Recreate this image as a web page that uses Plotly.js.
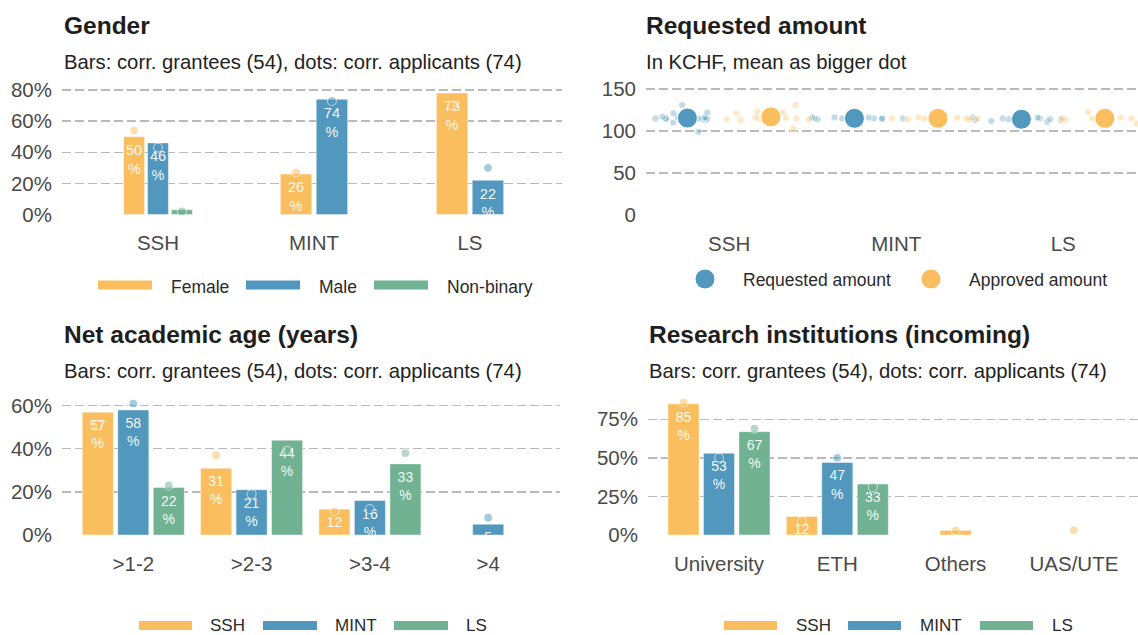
<!DOCTYPE html>
<html>
<head>
<meta charset="utf-8">
<script src="https://cdn.plot.ly/plotly-3.0.1.min.js"></script>
<style>html,body{margin:0;padding:0;background:#fff;}</style>
</head>
<body>
<div id="chart" style="width:1138px;height:635px;"></div>
<script>
// ---------------- DATA ----------------
const groupCategories = ['SSH', 'MINT', 'LS'];
const genderSeries = ['Female', 'Male', 'Non-binary'];
const genderFemaleGrantees = [50, 26, 78];
const genderMaleGrantees = [46, 74, 22];
const genderNonBinaryGrantees = [3, 0, 0];
const genderFemaleApplicants = [54, 27, 70];
const genderMaleApplicants = [43, 73, 30];
const genderNonBinaryApplicants = [2, 0, 0];

const amountSeries = ['Requested amount', 'Approved amount'];
const requestedSSH = [115, 114, 115, 116, 113, 115, 114, 117, 122, 121, 131, 99, 110, 115, 114, 116, 115];
const approvedSSH = [115, 114, 116, 115, 113, 122, 121, 123, 131, 103, 115, 114, 116];
const requestedMINT = [115, 116, 115, 114, 115, 116, 115, 114, 116, 115, 115];
const approvedMINT = [115, 116, 114, 115, 116, 115, 114, 115, 116];
const requestedLS = [115, 114, 113, 112, 115, 116, 111, 114, 115, 113, 116];
const approvedLS = [115, 114, 116, 115, 123, 109, 113, 115, 116];

const ageCategories = ['>1-2', '>2-3', '>3-4', '>4'];
const ageSSHGrantees = [57, 31, 12, 0];
const ageMINTGrantees = [58, 21, 16, 5];
const ageLSGrantees = [22, 44, 33, 0];
const ageSSHApplicants = [51, 37, 11, 0];
const ageMINTApplicants = [61, 19, 12, 8];
const ageLSApplicants = [23, 39, 38, 0];

const instCategories = ['University', 'ETH', 'Others', 'UAS/UTE'];
const instSSHGrantees = [85, 12, 3, 0];
const instMINTGrantees = [53, 47, 0, 0];
const instLSGrantees = [67, 33, 0, 0];
const instSSHApplicants = [86, 9, 3, 3];
const instMINTApplicants = [50, 50, 0, 0];
const instLSApplicants = [69, 31, 0, 0];

const genderTicks = [0, 20, 40, 60, 80];
const amountTicks = [0, 50, 100, 150];
const ageTicks = [0, 20, 40, 60];
const instTicks = [0, 25, 50, 75];

// ---------------- STYLE / LAYOUT HELPERS ----------------
const W = 1138, H = 635;
const F = '"Liberation Sans", Arial, Helvetica, sans-serif';
const ORANGE = '#FABE5F', BLUE = '#5298BE', GREEN = '#71B293';
const ORANGE_RGB = '250,190,95', BLUE_RGB = '82,152,190';

const panels = {
  tl: {xa: 'x',  ya: 'y',  xk: 'xaxis',  yk: 'yaxis',  left: 62,  right: 562,  top: 80,  zeroPx: 214.5, refVal: 80,  refPx: 90,    c0: 158,   sp: 156},
  tr: {xa: 'x2', ya: 'y2', xk: 'xaxis2', yk: 'yaxis2', left: 646, right: 1138, top: 80,  zeroPx: 215,   refVal: 150, refPx: 89,    c0: 729.2, sp: 167},
  bl: {xa: 'x3', ya: 'y3', xk: 'xaxis3', yk: 'yaxis3', left: 62,  right: 560,  top: 393, zeroPx: 535,   refVal: 60,  refPx: 405.7, c0: 133.3, sp: 118.3},
  br: {xa: 'x4', ya: 'y4', xk: 'xaxis4', yk: 'yaxis4', left: 648, right: 1138, top: 393, zeroPx: 535,   refVal: 75,  refPx: 419.3, c0: 719,   sp: 118.3}
};
Object.values(panels).forEach(p => { p.ppu = (p.zeroPx - p.refPx) / p.refVal; });

function makeAxes(p, cats, yticks, suffix, layout) {
  const bottom = p.zeroPx + 1;
  layout[p.xk] = {
    type: 'linear', anchor: p.ya,
    domain: [p.left / W, p.right / W],
    range: [(p.left - p.c0) / p.sp, (p.right - p.c0) / p.sp],
    tickvals: cats.map((c, i) => i), ticktext: cats,
    showgrid: false, zeroline: false, showline: false, ticks: '',
    tickfont: {family: F, size: 20.5, color: '#4a4a4a'},
    ticklabelstandoff: 13, fixedrange: true
  };
  layout[p.yk] = {
    type: 'linear', anchor: p.xa,
    domain: [1 - bottom / H, 1 - p.top / H],
    range: [-(bottom - p.zeroPx) / p.ppu, (p.zeroPx - p.top) / p.ppu],
    tickvals: yticks, ticktext: yticks.map(v => v + suffix),
    showgrid: true, gridcolor: '#bababa', griddash: '9px,4px', gridwidth: 1.3,
    zeroline: false, showline: false, ticks: '',
    tickfont: {family: F, size: 20.5, color: '#4a4a4a'},
    ticklabelstandoff: 9, fixedrange: true
  };
}

function buildBarPanel(p, cats, bars, dots, colors, mode, fs) {
  const per = bars.map(() => ({bx: [], by: [], bw: [], dx: [], dy: []}));
  cats.forEach((c, i) => {
    const present = [];
    bars.forEach((b, k) => { if (b[i] > 0 || dots[k][i] > 0) present.push(k); });
    const n = present.length;
    if (!n) return;
    const slot = mode === 'total' ? 0.46 / n : 0.3;
    const gw = slot * n;
    present.forEach((k, j) => {
      const xc = i - gw / 2 + (j + 0.5) * slot;
      if (bars[k][i] > 0) { per[k].bx.push(xc); per[k].by.push(bars[k][i]); per[k].bw.push(slot * 0.875); }
      if (dots[k][i] > 0) { per[k].dx.push(xc); per[k].dy.push(dots[k][i]); }
    });
  });
  const tr = [];
  per.forEach((s, k) => tr.push({
    type: 'bar', x: s.bx, y: s.by, width: s.bw, xaxis: p.xa, yaxis: p.ya,
    marker: {color: colors[k], line: {color: 'rgba(255,255,255,0.55)', width: 0.8}},
    hoverinfo: 'skip', showlegend: false
  }));
  // value labels inside bars (two lines: number, then %); only where the number fits in the bar
  per.forEach((s, k) => {
    const xs = [], ys = [], ts = [];
    s.bx.forEach((x, j) => {
      if (s.by[j] * p.ppu >= 9) {
        xs.push(x); ys.push(s.by[j]);
        ts.push(s.by[j] * p.ppu >= 24 ? s.by[j] + '<br>%' : String(s.by[j]));
      }
    });
    tr.push({
      type: 'scatter', mode: 'markers+text', x: xs, y: ys, text: ts, textposition: 'bottom center',
      textfont: {family: F, size: fs, color: 'rgba(255,255,255,0.95)'},
      marker: {size: 10.4, color: 'rgba(0,0,0,0)', opacity: 0},
      cliponaxis: true, xaxis: p.xa, yaxis: p.ya, hoverinfo: 'skip', showlegend: false
    });
  });
  per.forEach((s, k) => tr.push({
    type: 'scatter', mode: 'markers', x: s.dx, y: s.dy,
    marker: {size: 9, color: colors[k], opacity: 0.5, line: {color: '#ffffff', width: 1.2}},
    cliponaxis: false, xaxis: p.xa, yaxis: p.ya, hoverinfo: 'skip', showlegend: false
  }));
  return tr;
}

function mean(a) { return a.reduce((s, v) => s + v, 0) / a.length; }

function buildAmountPanel(p) {
  const req = [requestedSSH, requestedMINT, requestedLS];
  const app = [approvedSSH, approvedMINT, approvedLS];
  const tr = [];
  const groups = [[req, -0.25, BLUE_RGB, BLUE], [app, 0.25, ORANGE_RGB, ORANGE]];
  groups.forEach(([sets, off, rgb]) => {
    sets.forEach((arr, i) => tr.push({
      type: 'box', x: arr.map(() => i + off), y: arr, xaxis: p.xa, yaxis: p.ya,
      boxpoints: 'all', jitter: 1, pointpos: 0, width: 0.8, whiskerwidth: 0,
      fillcolor: 'rgba(0,0,0,0)', line: {width: 0, color: 'rgba(0,0,0,0)'},
      marker: {size: 7, color: 'rgba(' + rgb + ',0.35)', line: {color: 'rgba(255,255,255,0.85)', width: 0.8}},
      hoverinfo: 'skip', showlegend: false
    }));
  });
  groups.forEach(([sets, off, rgb, col]) => {
    tr.push({
      type: 'scatter', mode: 'markers',
      x: sets.map((a, i) => i + off), y: sets.map(a => mean(a)),
      marker: {size: 20, color: col, line: {color: '#ffffff', width: 1}},
      cliponaxis: false, xaxis: p.xa, yaxis: p.ya, hoverinfo: 'skip', showlegend: false
    });
  });
  return tr;
}

// ---------------- BUILD ----------------
const layout = {
  width: W, height: H, margin: {l: 0, r: 0, t: 0, b: 0},
  paper_bgcolor: '#ffffff', plot_bgcolor: '#ffffff',
  showlegend: false, barmode: 'overlay', boxmode: 'overlay',
  font: {family: F, color: '#333'},
  annotations: [], shapes: []
};

makeAxes(panels.tl, groupCategories, genderTicks, '%', layout);
makeAxes(panels.tr, groupCategories, amountTicks, '', layout);
makeAxes(panels.bl, ageCategories, ageTicks, '%', layout);
makeAxes(panels.br, instCategories, instTicks, '%', layout);

let data = [];
data = data.concat(buildBarPanel(panels.tl, groupCategories,
  [genderFemaleGrantees, genderMaleGrantees, genderNonBinaryGrantees],
  [genderFemaleApplicants, genderMaleApplicants, genderNonBinaryApplicants],
  [ORANGE, BLUE, GREEN], 'total', 14.5));
data = data.concat(buildAmountPanel(panels.tr));
data = data.concat(buildBarPanel(panels.bl, ageCategories,
  [ageSSHGrantees, ageMINTGrantees, ageLSGrantees],
  [ageSSHApplicants, ageMINTApplicants, ageLSApplicants],
  [ORANGE, BLUE, GREEN], 'single', 14));
data = data.concat(buildBarPanel(panels.br, instCategories,
  [instSSHGrantees, instMINTGrantees, instLSGrantees],
  [instSSHApplicants, instMINTApplicants, instLSApplicants],
  [ORANGE, BLUE, GREEN], 'single', 14));

// titles
function txt(text, xpx, ypx, size, color, anchor) {
  layout.annotations.push({
    text: text, xref: 'paper', yref: 'paper', x: xpx / W, y: 1 - ypx / H,
    xanchor: anchor || 'left', yanchor: 'middle', showarrow: false,
    font: {family: F, size: size, color: color}, borderpad: 0
  });
}
const subtitleGrant = 'Bars: corr. grantees (54), dots: corr. applicants (74)';
txt('<b>Gender</b>', 63, 26, 24.5, '#1e1e1e');
txt(subtitleGrant, 63, 62, 20.3, '#222');
txt('<b>Requested amount</b>', 645, 26, 24.5, '#1e1e1e');
txt('In KCHF, mean as bigger dot', 645, 62, 20.3, '#222');
txt('<b>Net academic age (years)</b>', 63, 335, 24.5, '#1e1e1e');
txt(subtitleGrant, 63, 371, 20.3, '#222');
txt('<b>Research institutions (incoming)</b>', 648, 335, 24.5, '#1e1e1e');
txt(subtitleGrant, 648, 371, 20.3, '#222');

// legends (keys + labels)
function rectKey(x0, x1, yc, color) {
  layout.shapes.push({type: 'rect', xref: 'paper', yref: 'paper',
    x0: x0 / W, x1: x1 / W, y0: 1 - (yc + 4.5) / H, y1: 1 - (yc - 4.5) / H,
    fillcolor: color, line: {width: 0}});
}
function circleKey(xc, yc, d, color) {
  layout.shapes.push({type: 'circle', xref: 'paper', yref: 'paper',
    x0: (xc - d / 2) / W, x1: (xc + d / 2) / W, y0: 1 - (yc + d / 2) / H, y1: 1 - (yc - d / 2) / H,
    fillcolor: color, line: {color: '#ffffff', width: 1}});
}
const legendGender = [[98, 152, 170], [246, 300, 318], [374, 428, 446]];
genderSeries.forEach((s, k) => {
  rectKey(legendGender[k][0], legendGender[k][1], 285, [ORANGE, BLUE, GREEN][k]);
  txt(s, legendGender[k][2], 286.5, 17.5, '#2a2a2a');
});
const legendAmount = [[705, 742], [931, 968]];
amountSeries.forEach((s, k) => {
  circleKey(legendAmount[k][0], 279, 20, [BLUE, ORANGE][k]);
  txt(s, legendAmount[k][1], 279.5, 17.5, '#2a2a2a');
});
const legendBL = [[139, 192, 209], [263, 317, 334], [394, 448, 465]];
const legendBR = [[724, 777, 795], [848, 901, 919], [980, 1033, 1051]];
groupCategories.forEach((s, k) => {
  const col = [ORANGE, BLUE, GREEN][k];
  rectKey(legendBL[k][0], legendBL[k][1], 625.5, col);
  txt(s, legendBL[k][2], 625.5, 17, '#2a2a2a');
  rectKey(legendBR[k][0], legendBR[k][1], 625.5, col);
  txt(s, legendBR[k][2], 625.5, 17, '#2a2a2a');
});

Plotly.newPlot('chart', data, layout, {staticPlot: true, displayModeBar: false});
</script>
</body>
</html>
